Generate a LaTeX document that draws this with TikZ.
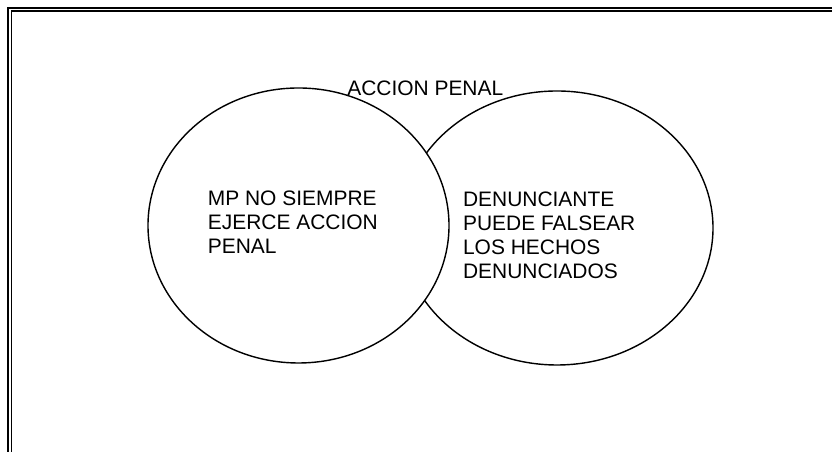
\documentclass[tikz,border=0pt]{standalone}
\usepackage{fontspec}
\setmainfont{Liberation Sans}
\usepackage{xcolor}
\usepackage{tikz}
\usetikzlibrary{
  positioning,
  shapes.geometric
}

\begin{document}
\begin{tikzpicture}[
    setbox/.style={ellipse, draw=black, line width=1pt, fill=white, inner sep=0pt},
    settext/.style={font=\fontsize{14.9pt}{17.1pt}\selectfont, inner sep=0pt, align=left, anchor=base west}
  ]

  \useasboundingbox (0, 0) rectangle (20.8, 11.3);

  % frame: only top and left sides, doubled
  \coordinate (fo) at (0.2075, 11.1075);
  \coordinate (fi) at (0.2925, 11.025);
  \draw[line width=1.4pt] (0.2075, 0) -- (fo) -- (20.8, 11.1075);
  \draw[line width=0.9pt] (0.2925, 0) -- (fi) -- (20.8, 11.025);

  % the two sets, right one first so the left one covers it
  \node[setbox, minimum width=7.8cm, minimum height=6.85cm] (denunciante) at (13.925, 5.6) {};
  \node[setbox, minimum width=7.525cm, minimum height=6.875cm] (mp) at (7.4625, 5.6625) {};

  % labels (base = baseline of the last line)
  \node[settext] (titulo) at (8.675, 8.9) {ACCION PENAL};
  \node[settext] (mptext) at (5.19, 4.95) {MP NO SIEMPRE\\EJERCE ACCION\\PENAL};
  \node[settext] (dentext) at (11.57, 4.325) {DENUNCIANTE\\PUEDE FALSEAR\\LOS HECHOS\\DENUNCIADOS};

\end{tikzpicture}
\end{document}
